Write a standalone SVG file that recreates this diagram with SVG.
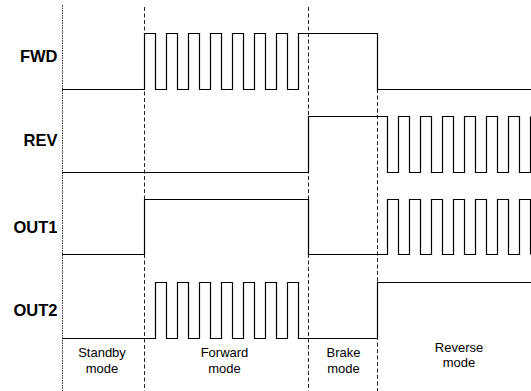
<svg xmlns="http://www.w3.org/2000/svg" width="531" height="391" viewBox="0 0 531 391">
<style>
.sig{fill:none;stroke:#000;stroke-width:1.2;stroke-linejoin:miter}
.div{fill:none;stroke:#222;stroke-width:1;stroke-dasharray:4 2.5}
.dot{fill:none;stroke:#333;stroke-width:1;stroke-dasharray:1.5 1}
.lbl{font-family:"Liberation Sans",Arial,sans-serif;font-weight:bold;font-size:16.5px;text-anchor:end;fill:#000}
.mode{font-family:"Liberation Sans",Arial,sans-serif;font-size:13px;text-anchor:middle;fill:#000}
</style>
<rect width="531" height="391" fill="#fff"/>
<g id="dividers">
<line class="dot" x1="62.5" y1="5" x2="62.5" y2="391"/>
<line class="div" x1="144.5" y1="7" x2="144.5" y2="391"/>
<line class="div" x1="308.5" y1="7" x2="308.5" y2="391"/>
<line class="div" x1="377.5" y1="89" x2="377.5" y2="391"/>
</g>
<g id="connectors">
<path id="fwd-wave" class="sig" d="M62,89.5 H144.5 V33.5 H155.5 V89.5 H166.5 V33.5 H177.5 V89.5 H188.5 V33.5 H199.5 V89.5 H210.5 V33.5 H221.5 V89.5 H232.5 V33.5 H243.5 V89.5 H254.5 V33.5 H265.5 V89.5 H276.5 V33.5 H287.5 V89.5 H298.5 V33.5 H377.5 V89.5 H531"/>
<path id="rev-wave" class="sig" d="M62,172.5 H308.5 V116.5 H387.5 V172.5 H398.5 V116.5 H409.5 V172.5 H420.5 V116.5 H431.5 V172.5 H442.5 V116.5 H453.5 V172.5 H464.5 V116.5 H475.5 V172.5 H486.5 V116.5 H497.5 V172.5 H508.5 V116.5 H519.5 V172.5 H530.5 V116.5"/>
<path id="out1-wave" class="sig" d="M62,254.5 H144.5 V199.5 H308.5 V254.5 H387.5 V199.5 H398.5 V254.5 H409.5 V199.5 H420.5 V254.5 H431.5 V199.5 H442.5 V254.5 H453.5 V199.5 H464.5 V254.5 H475.5 V199.5 H486.5 V254.5 H497.5 V199.5 H508.5 V254.5 H519.5 V199.5 H530.5 V254.5"/>
<path id="out2-wave" class="sig" d="M62,338.5 H155.5 V282.5 H166.5 V338.5 H177.5 V282.5 H188.5 V338.5 H199.5 V282.5 H210.5 V338.5 H221.5 V282.5 H232.5 V338.5 H243.5 V282.5 H254.5 V338.5 H265.5 V282.5 H276.5 V338.5 H287.5 V282.5 H298.5 V338.5 H377.5 V282.5 H531"/>
</g>
<g id="node-fwd"><text class="lbl" x="57.5" y="62">FWD</text></g>
<g id="node-rev"><text class="lbl" x="57.5" y="146">REV</text></g>
<g id="node-out1"><text class="lbl" x="57.5" y="233">OUT1</text></g>
<g id="node-out2"><text class="lbl" x="57.5" y="316">OUT2</text></g>
<g id="mode-standby"><text class="mode" x="102" y="357">Standby</text><text class="mode" x="102" y="373">mode</text></g>
<g id="mode-forward"><text class="mode" x="224.5" y="357">Forward</text><text class="mode" x="224.5" y="373">mode</text></g>
<g id="mode-brake"><text class="mode" x="343.5" y="357">Brake</text><text class="mode" x="343.5" y="373">mode</text></g>
<g id="mode-reverse"><text class="mode" x="459" y="352">Reverse</text><text class="mode" x="459" y="367">mode</text></g>
</svg>
